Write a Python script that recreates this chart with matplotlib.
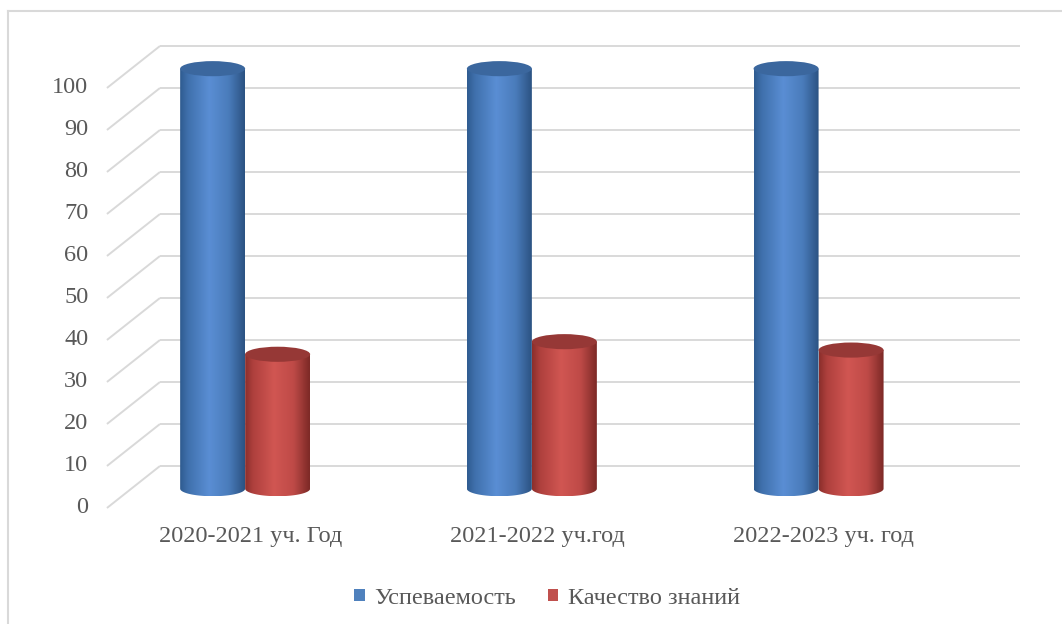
import numpy as np
import matplotlib
matplotlib.use("Agg")
import matplotlib.pyplot as plt
from matplotlib.patches import Ellipse, PathPatch, Rectangle
from matplotlib.path import Path
from matplotlib.colors import LinearSegmentedColormap
from matplotlib.lines import Line2D

# ---- data ----
categories = ["2020-2021 уч. Год", "2021-2022 уч.год", "2022-2023 уч. год"]
series_names = ["Успеваемость", "Качество знаний"]
uspevaemost = [100, 100, 100]
kachestvo = [32, 35, 33]
yticks = [0, 10, 20, 30, 40, 50, 60, 70, 80, 90, 100]

# ---- style ----
FONT = "Liberation Serif"
TXT = "#595959"
GRID = "#D9D9D9"
blue_cmap = LinearSegmentedColormap.from_list(
    "b", [(0, "#2F5B90"), (0.12, "#3F70AC"), (0.45, "#5A8ED4"),
          (0.75, "#4A7CBB"), (1.0, "#2B5282")])
red_cmap = LinearSegmentedColormap.from_list(
    "r", [(0, "#8A2E2B"), (0.12, "#AE403D"), (0.45, "#D15652"),
          (0.75, "#BE4A47"), (1.0, "#7C2926")])
blue_top = "#3B679E"
red_top = "#963836"

fig = plt.figure(figsize=(10.62, 6.24), dpi=100)
ax = fig.add_axes([0, 0, 1, 1])
XLIM = (-0.873, 2.831)
YLIM = (-27.62, 120.95)
ax.axis("off")

# wall geometry (depth offset of the back wall)
depth_dx, depth_dy = 0.185, 10.0
x_left, x_right = -0.5, len(categories) - 0.5

for t in yticks:
    ax.plot([x_left, x_left + depth_dx], [t, t + depth_dy], color=GRID, lw=1.4,
            solid_capstyle="butt", zorder=1)
    ax.plot([x_left + depth_dx, x_right + depth_dx], [t + depth_dy, t + depth_dy],
            color=GRID, lw=1.4, solid_capstyle="butt", zorder=1)
    ax.text(x_left - 0.065, t, str(t), ha="right", va="center",
            fontsize=17.5, family=FONT, color=TXT)

for i, c in enumerate(categories):
    ax.text(i, -6.9, c, ha="center", va="center", fontsize=17.5,
            family=FONT, color=TXT)

# bars (cylinders)
bar_w = 0.2267
ell_h = 3.6
bar_dx, bar_dy = -0.018, 4.6
grad = np.linspace(0, 1, 256).reshape(1, -1)


def cylinder(cx, value, cmap, top_color, z):
    x0, x1 = cx - bar_w / 2, cx + bar_w / 2
    yb = bar_dy
    yt = bar_dy + value
    th = np.linspace(np.pi, 2 * np.pi, 60)
    verts = [(x0, yt), (x0, yb)]
    verts += list(zip(cx + bar_w / 2 * np.cos(th), yb + ell_h / 2 * np.sin(th)))
    verts += [(x1, yt), (x0, yt)]
    codes = [Path.MOVETO] + [Path.LINETO] * (len(verts) - 2) + [Path.CLOSEPOLY]
    body = PathPatch(Path(verts, codes), facecolor="none", edgecolor="none", zorder=z)
    ax.add_patch(body)
    im = ax.imshow(grad, cmap=cmap, aspect="auto", interpolation="bicubic",
                   extent=[x0, x1, yb - ell_h / 2, yt], zorder=z)
    im.set_clip_path(body)
    top = Ellipse((cx, yt), bar_w, ell_h, facecolor=top_color,
                  edgecolor="none", zorder=z + 0.5)
    ax.add_patch(top)


for i in range(len(categories)):
    cylinder(i + bar_dx - bar_w / 2, uspevaemost[i], blue_cmap, blue_top, 3 + i * 2)
    cylinder(i + bar_dx + bar_w / 2, kachestvo[i], red_cmap, red_top, 4 + i * 2)

ax.set_xlim(*XLIM)
ax.set_ylim(*YLIM)

# chart border (left and top)
fig.add_artist(Line2D([8 / 1062, 8 / 1062], [0, 1 - 11 / 624],
                      transform=fig.transFigure, color=GRID, lw=1.5))
fig.add_artist(Line2D([8 / 1062, 1], [1 - 11 / 624, 1 - 11 / 624],
                      transform=fig.transFigure, color=GRID, lw=1.5))

handles = [Rectangle((0, 0), 1, 1, facecolor="#4F81BD"),
           Rectangle((0, 0), 1, 1, facecolor="#C0504D")]
leg = fig.legend(handles, series_names, loc="center",
                 bbox_to_anchor=(547 / 1062, 1 - 598 / 624), ncol=2,
                 frameon=False, prop={"family": FONT, "size": 17.5},
                 handlelength=0.42, handleheight=0.42, handletextpad=0.4,
                 columnspacing=1.3, labelcolor=TXT)

fig.savefig("out.png", dpi=100)
